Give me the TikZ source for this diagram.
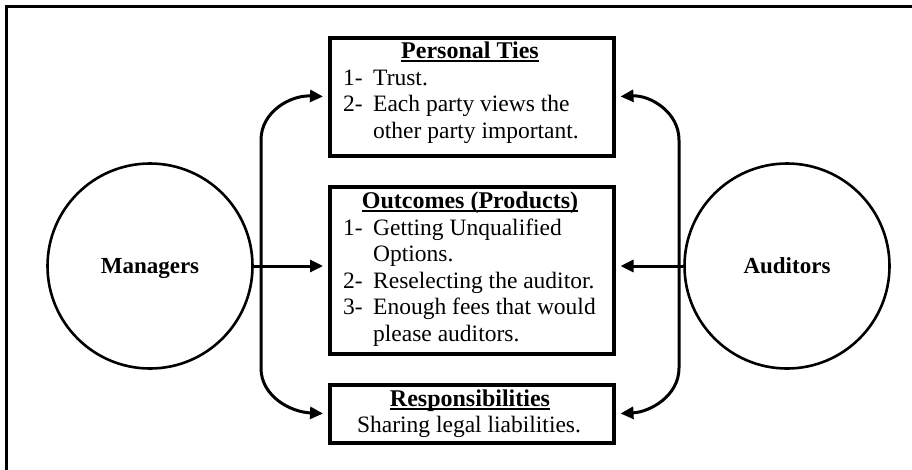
\documentclass[tikz,border=0pt]{standalone}
\usepackage{fontspec}
\setmainfont{Liberation Serif}
\usetikzlibrary{arrows.meta}
\newsavebox\ulbox
\newcommand\myul[1]{\sbox\ulbox{#1}\rlap{\rule[-3.5pt]{\wd\ulbox}{1.5pt}}\usebox\ulbox}
\begin{document}
\begin{tikzpicture}[x=1pt,y=-1pt,
  >={Triangle[length=13pt,width=12pt]},
  box/.style={draw, line width=3.5pt, minimum width=284pt, inner sep=0pt, anchor=north west},
  circ/.style={draw, circle, line width=2.6pt, minimum size=205pt, inner sep=0pt,
    font=\fontsize{23}{24}\selectfont\bfseries, text depth=0pt},
  txt/.style={inner sep=0pt, font=\fontsize{23.5}{26.5}\selectfont},
  ttl/.style={inner sep=0pt, font=\fontsize{24}{24}\selectfont\bfseries, anchor=base},
  conn/.style={line width=3pt, shorten >=5pt, shorten <=5pt},
  frame/.style={line width=3pt}]
\useasboundingbox (0,0) rectangle (912,469);
% frame
\draw[frame] (6.5,480) -- (6.5,6) -- (920,6);
% boxes
\node[box, minimum height=118pt] (pt) at (328,36) {};
\node[box, minimum height=167pt] (oc) at (328,185) {};
\node[box, minimum height=58pt] (rs) at (328,383) {};
% box texts
\node[ttl] (ptt) at (470,58) {\myul{Personal Ties}};
\node[txt, anchor=base west] (ptl) at (343,85) {\begin{tabular}[t]{@{}p{30pt}@{}l@{}}1- & Trust.\\ 2- & Each party views the\\ & other party important.\end{tabular}};
\node[ttl] (oct) at (470,208) {\myul{Outcomes (Products)}};
\node[txt, anchor=base west] (ocl) at (343,235) {\begin{tabular}[t]{@{}p{30pt}@{}l@{}}1- & Getting Unqualified\\ & Options.\\ 2- & Reselecting the auditor.\\ 3- & Enough fees that would\\ & please auditors.\end{tabular}};
\node[ttl] (rst) at (470,406) {\myul{Responsibilities}};
\node[txt, anchor=base] (rsl) at (469,432) {Sharing legal liabilities.};
% circles
\node[circ] (mg) at (150,266) {Managers};
\node[circ] (au) at (787,266) {Auditors};
% connectors
\coordinate (ltop) at (261,140);
\coordinate (lbot) at (261,368);
\coordinate (rtop) at (679,140);
\coordinate (rbot) at (679,368);
\draw[conn,<->] (pt.west) .. controls (290,95) and (261,112) .. (ltop) -- (lbot) .. controls (261,396) and (290,412) .. (rs.west);
\draw[conn,<->] (pt.east) .. controls (650,95) and (679,112) .. (rtop) -- (rbot) .. controls (679,396) and (650,412) .. (rs.east);
\draw[conn,->,shorten <=0pt] (mg.east) -- (mg.east -| oc.west);
\draw[conn,->,shorten <=0pt] (au.west) -- (au.west -| oc.east);
\end{tikzpicture}
\end{document}
